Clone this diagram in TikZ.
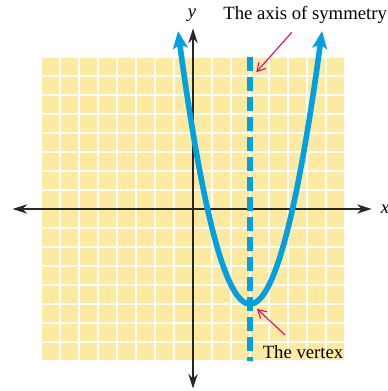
\documentclass[tikz,border=0pt]{standalone}
\usepackage{fontspec}
\setmainfont{Liberation Serif}
\usetikzlibrary{arrows.meta,positioning}
\definecolor{procblue}{RGB}{0,160,227}
\definecolor{gridyellow}{RGB}{254,233,160}
\definecolor{labmagenta}{RGB}{230,0,126}

\begin{document}
\begin{tikzpicture}[x=0.5cm, y=0.5cm, font=\fontsize{14}{16}\selectfont,
    axisline/.style={draw=black!85, line width=0.9pt,
                     {Stealth[length=11pt, width=7pt]}-{Stealth[length=11pt, width=7pt]}},
    curve/.style={draw=procblue, line width=4.2pt,
                  {Stealth[length=13pt, width=11pt, inset=3pt]}-{Stealth[length=13pt, width=11pt, inset=3pt]}},
    symline/.style={draw=procblue, line width=4.2pt, dash pattern=on 10.5pt off 4.5pt},
    pointer/.style={draw=labmagenta, line width=0.8pt, -{Straight Barb[length=6pt, width=7pt]}},
    lab/.style={inner sep=1pt}]
\useasboundingbox (-10.16,-9.58) rectangle (10.26,11.0);
% graph paper
\fill[gridyellow] (-8,-8) rectangle (8,8);
\draw[white, line width=1.4pt, step=1] (-8,-8) grid (8,8);
% axes
\coordinate (xl) at (-9.5,0);
\coordinate (xr) at (9.4,0);
\coordinate (yb) at (0,-9.45);
\coordinate (yt) at (0,9.5);
\draw[axisline] (xl) -- (xr);
\draw[axisline] (yb) -- (yt);
\node[lab] (xlab) at (10.1,0) {\textit{x}};
\node[lab] (ylab) at (-0.05,10.2) {\textit{y}};
% axis of symmetry and parabola
\coordinate (axtop) at (3,8);
\coordinate (axbot) at (3,-8);
\coordinate (vertex) at (3,-5);
\draw[symline] (axtop) -- (axbot);
\draw[curve] plot[domain=-0.79:6.79, samples=80, smooth] (\x, {(\x-3)^2-5});
% labels
\node[lab] (axislab) at (5.9,10.2) {The axis of symmetry};
\node[lab] (vertexlab) at (5.79,-7.53) {The vertex};
\coordinate (axfrom) at (5.2,9.3);
\coordinate (axto) at (3.33,7.2);
\coordinate (vfrom) at (4.84,-6.63);
\coordinate (vto) at (3.37,-5.26);
\draw[pointer] (axfrom) -- (axto);
\draw[pointer] (vfrom) -- (vto);
\end{tikzpicture}
\end{document}
